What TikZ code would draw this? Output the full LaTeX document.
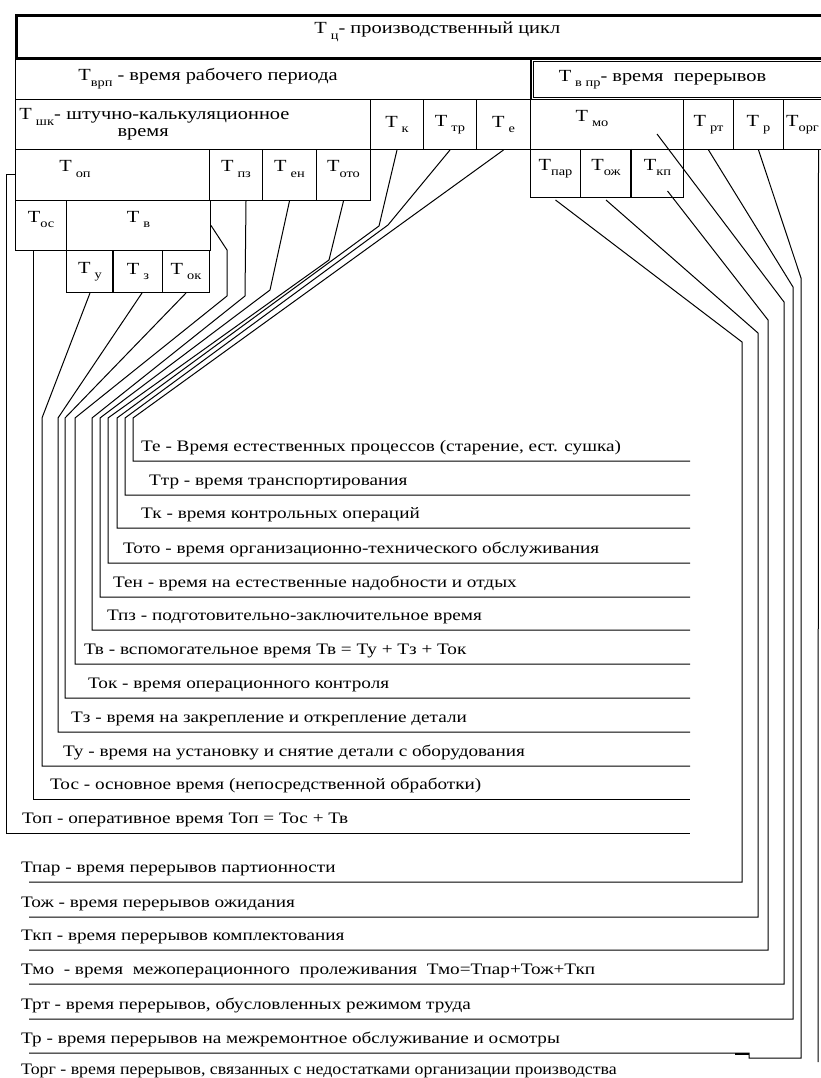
\documentclass[tikz,border=0pt]{standalone}
\usepackage{graphicx}
\usepackage{fontspec}
\setmainfont{Liberation Serif}
\newfontfamily\lblfnt[FakeStretch=1.2]{Liberation Serif}
\usetikzlibrary{calc}

\newcommand\cellfnt{\lblfnt\fontsize{17}{18}\selectfont}
\newcommand\tind[1]{Т\hspace{4pt}\raisebox{-0.7ex}{\fontsize{12}{12}\selectfont #1}}
\newcommand\tindc[1]{Т\raisebox{-0.7ex}{\fontsize{12}{12}\selectfont #1}}

\tikzset{
  cell/.style={draw, line width=1pt, anchor=north west, inner sep=0pt, font=\cellfnt},
  hi/.style={text depth=18pt},
  lbl/.style={anchor=base west, inner sep=0pt, font=\lblfnt\fontsize{16}{18}\selectfont},
  wire/.style={line width=1pt, line join=miter},
}

\begin{document}
\begin{tikzpicture}[x=1pt, y=-1pt]
    \useasboundingbox (0,0) rectangle (821,1078);

    %boxes
    \node[cell, hi, line width=2.6pt, minimum width=842, minimum height=43] (tc) at (15,14) {\tind{ц}- производственный цикл};
    \node[cell, minimum width=515, minimum height=42] (vrp) at (15,57) {\tindc{врп} - время рабочего периода\hspace*{130pt}};
    \node[cell, double, double distance=1.5pt, minimum width=320, minimum height=38] (vpr) at (532,60) {\tind{в пр}- время\ \ перерывов\hspace*{60pt}};

    \node[cell, minimum width=355, minimum height=50, inner xsep=4pt, text width=347, align=left] (shk) at (15,99) {\tind{шк}- штучно-калькуляционное\\[-1pt]\hspace*{98pt}время};
    \node[cell, minimum width=53, minimum height=50] (k) at (370,99) {\tind{к}};
    \node[cell, minimum width=53, minimum height=50] (tr) at (423,99) {\tind{тр}};
    \node[cell, minimum width=54, minimum height=50] (e) at (476,99) {\tind{е}};
    \node[cell, hi, minimum width=153, minimum height=50] (mo) at (530,99) {\tind{мо}\hspace*{30pt}};
    \node[cell, minimum width=50, minimum height=50] (rt) at (683,99) {\tind{рт}};
    \node[cell, minimum width=50, minimum height=50] (r) at (733,99) {\tind{р}};
    \node[cell, minimum width=60, minimum height=50] (org) at (783,99) {\tindc{орг}\hspace*{22pt}};

    \node[cell, hi, minimum width=194, minimum height=51] (op) at (15,149) {\tind{оп}\hspace*{75pt}};
    \node[cell, hi, minimum width=53, minimum height=51] (pz) at (209,149) {\tind{пз}};
    \node[cell, hi, minimum width=54, minimum height=51] (en) at (262,149) {\tind{ен}};
    \node[cell, hi, minimum width=54, minimum height=51] (oto) at (316,149) {\tindc{ото}};
    \node[cell, hi, minimum width=50, minimum height=48] (par) at (530,149) {\tindc{пар}};
    \node[cell, hi, minimum width=51, minimum height=48] (ozh) at (580,149) {\tindc{ож}};
    \node[cell, hi, minimum width=52, minimum height=48] (kp) at (631,149) {\tindc{кп}};
    \draw[line width=2pt] (kp.north west) -- (kp.south west);

    \node[cell, hi, minimum width=51, minimum height=50] (os) at (15,200) {\tindc{ос}};
    \node[cell, hi, minimum width=144, minimum height=50] (v) at (66,200) {\tind{в}};
    \node[cell, minimum width=47, minimum height=42] (u) at (66,250) {\tind{у}};
    \node[cell, minimum width=49, minimum height=42] (z) at (113,250) {\tind{з}};
    \node[cell, minimum width=47, minimum height=42] (ok) at (162,250) {\tind{ок}};
    \draw[line width=2pt] (z.north west) -- (z.south west);

    %left legend
    \node[lbl] (lTe) at (141,451) {Те - Время естественных процессов (старение, ест. сушка)};
    \node[lbl] (lTtr) at (149,485) {Ттр - время транспортирования};
    \node[lbl] (lTk) at (141,518) {Тк - время контрольных операций};
    \node[lbl] (lToto) at (123,553) {Тото - время организационно-технического обслуживания};
    \node[lbl] (lTen) at (113,587) {Тен - время на естественные надобности и отдых};
    \node[lbl] (lTpz) at (107,620) {Тпз - подготовительно-заключительное время};
    \node[lbl] (lTv) at (84,654) {Тв - вспомогательное время Тв = Ту + Тз + Ток};
    \node[lbl] (lTok) at (88,688) {Ток - время операционного контроля};
    \node[lbl] (lTz) at (71,722) {Тз - время на закрепление и открепление детали};
    \node[lbl] (lTu) at (63,756) {Ту - время на установку и снятие детали с оборудования};
    \node[lbl] (lTos) at (50,789) {Тос - основное время (непосредственной обработки)};
    \node[lbl] (lTop) at (22,823) {Топ - оперативное время Топ = Тос + Тв};

    \coordinate (uTe) at (690,461);
    \coordinate (uTtr) at (690,495);
    \coordinate (uTk) at (690,528);
    \coordinate (uToto) at (690,563);
    \coordinate (uTen) at (690,597);
    \coordinate (uTpz) at (690,630);
    \coordinate (uTv) at (690,664);
    \coordinate (uTok) at (690,698);
    \coordinate (uTz) at (690,732);
    \coordinate (uTu) at (690,766);
    \coordinate (uTos) at (690,799);
    \coordinate (uTop) at (690,833);

    \draw[wire] (e.south) -- (133,418) |- (uTe);
    \draw[wire] (tr.south) -- (388,225) -- (125,418) |- (uTtr);
    \draw[wire] (k.south) -- (379,226) -- (117,418) |- (uTk);
    \draw[wire] (oto.south) -- (329,260) -- (108,418) |- (uToto);
    \draw[wire] (en.south) -- (270,290) -- (100,418) |- (uTen);
    \draw[wire] ($(pz.south)+(10,0)$) -- (245,296) -- (92,418) |- (uTpz);
    \draw[wire] (v.east) -- (227,250) -- (227,296) -- (75,418) |- (uTv);
    \draw[wire] (ok.south) -- (65,418) |- (uTok);
    \draw[wire] ($(z.south)+(4,0)$) -- (58,418) |- (uTz);
    \draw[wire] (u.south) -- (42,418) |- (uTu);
    \draw[wire] ($(os.south)+(-8,0)$) |- (uTos);
    \draw[wire] (op.west) -- ++(-9,0) |- (uTop);

    %right legend
    \node[lbl] (lTpar) at (21,872) {Тпар - время перерывов партионности};
    \node[lbl] (lTozh) at (21,907) {Тож - время перерывов ожидания};
    \node[lbl] (lTkp) at (21,940) {Ткп - время перерывов комплектования};
    \node[lbl] (lTmo) at (21,974) {Тмо\ \ - время\ \ межоперационного\ \ пролеживания\ \ Тмо=Тпар+Тож+Ткп};
    \node[lbl] (lTrt) at (21,1009) {Трт - время перерывов, обусловленных режимом труда};
    \node[lbl] (lTr) at (21,1043) {Тр - время перерывов на межремонтное обслуживание и осмотры};
    \node[lbl] (lTorg) at (21,1074) {\scalebox{0.93}[1]{Торг - время перерывов, связанных с недостатками организации производства}};

    \coordinate (uTpar) at (29,882);
    \coordinate (uTozh) at (29,917);
    \coordinate (uTkp) at (29,950);
    \coordinate (uTmo) at (29,984);
    \coordinate (uTrt) at (29,1019);
    \coordinate (uTr) at (29,1053);
    \coordinate (uTorg) at (818,1062);

    \draw[wire] ($(par.south)+(0,2)$) -- (742,342) |- (uTpar);
    \draw[wire] ($(ozh.south)+(0,2)$) -- (758,333) |- (uTozh);
    \draw[wire] ($(kp.south)+(10,-7)$) -- (768,320) |- (uTkp);
    \draw[wire] ($(mo.south)+(50,-16)$) -- (784,302) |- (uTmo);
    \draw[wire] (rt.south) -- (793,287) |- (uTrt);
    \draw[wire] (r.south) -- (801,278) |- (749,1058) -- (749,1053) -- (uTr);
    \draw[line width=2.5pt] (735,1054) -- (749,1054);
    \draw[wire] ($(org.south)+(5,0)$) -- (uTorg);
\end{tikzpicture}
\end{document}
